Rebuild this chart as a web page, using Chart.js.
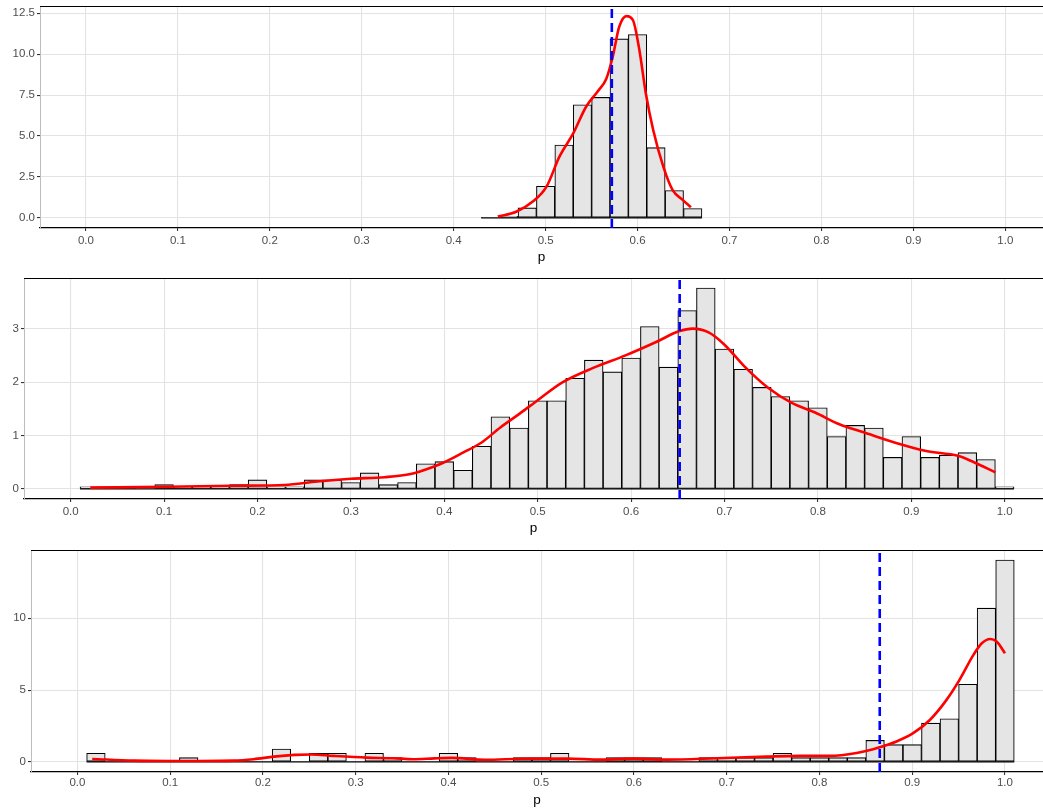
<!DOCTYPE html>
<html>
<head>
<meta charset="utf-8">
<script src="https://cdn.jsdelivr.net/npm/chart.js@4.4.1/dist/chart.umd.min.js"></script>
<style>
  html, body { margin: 0; padding: 0; background: #ffffff; }
  .panel { position: absolute; left: 0; width: 1043px; }
  canvas { display: block; }
</style>
</head>
<body>
<div class="panel" style="top:0px;height:270px"><canvas id="c1" width="1043" height="270"></canvas></div>
<div class="panel" style="top:270px;height:270px"><canvas id="c2" width="1043" height="270"></canvas></div>
<div class="panel" style="top:540px;height:271px"><canvas id="c3" width="1043" height="271"></canvas></div>
<script>
// ---------------- DATA ----------------
const binWidth = 0.02;
const xTicks = [0.0, 0.1, 0.2, 0.3, 0.4, 0.5, 0.6, 0.7, 0.8, 0.9, 1.0];

// Panel 1
const binCenters1 = [0.44, 0.46, 0.48, 0.50, 0.52, 0.54, 0.56, 0.58, 0.60, 0.62, 0.64, 0.66];
const density1 = [0.03, 0.10, 0.61, 1.93, 4.45, 6.91, 7.36, 10.93, 11.20, 4.29, 1.67, 0.57];
const curveX1 = [0.448, 0.468, 0.486, 0.501, 0.515, 0.530, 0.544, 0.557, 0.566, 0.573, 0.580, 0.588, 0.595, 0.602, 0.609, 0.617, 0.628, 0.638, 0.649, 0.658];
const curveY1 = [0.08, 0.38, 1.00, 1.91, 3.74, 5.16, 6.79, 7.75, 8.50, 9.84, 11.66, 12.32, 12.07, 10.24, 7.60, 5.37, 3.13, 1.71, 1.10, 0.65];
const mean1 = 0.572;
const yTicks1 = [0.0, 2.5, 5.0, 7.5, 10.0, 12.5];

// Panel 2
const binCenters2 = [0.02, 0.04, 0.06, 0.08, 0.10, 0.12, 0.14, 0.16, 0.18, 0.20,
                     0.22, 0.24, 0.26, 0.28, 0.30, 0.32, 0.34, 0.36, 0.38, 0.40,
                     0.42, 0.44, 0.46, 0.48, 0.50, 0.52, 0.54, 0.56, 0.58, 0.60,
                     0.62, 0.64, 0.66, 0.68, 0.70, 0.72, 0.74, 0.76, 0.78, 0.80,
                     0.82, 0.84, 0.86, 0.88, 0.90, 0.92, 0.94, 0.96, 0.98, 1.00];
const density2 = [0.04, 0.04, 0.04, 0.00, 0.08, 0.04, 0.04, 0.04, 0.08, 0.17,
                  0.04, 0.04, 0.17, 0.17, 0.12, 0.30, 0.08, 0.12, 0.47, 0.51,
                  0.35, 0.80, 1.35, 1.14, 1.65, 1.65, 2.07, 2.41, 2.19, 2.45,
                  3.04, 2.28, 3.34, 3.76, 2.62, 2.24, 1.90, 1.73, 1.65, 1.52,
                  0.98, 1.19, 1.14, 0.59, 0.98, 0.59, 0.63, 0.68, 0.55, 0.04];
const curveX2 = [0.021, 0.104, 0.175, 0.229, 0.264, 0.300, 0.336, 0.364, 0.389, 0.400, 0.420, 0.440, 0.460, 0.480, 0.500, 0.526, 0.560, 0.594, 0.628, 0.651, 0.666, 0.683, 0.700, 0.721, 0.747, 0.772, 0.797, 0.823, 0.849, 0.882, 0.916, 0.950, 0.967, 0.990];
const curveY2 = [0.025, 0.04, 0.06, 0.075, 0.14, 0.19, 0.22, 0.28, 0.42, 0.50, 0.68, 0.87, 1.15, 1.40, 1.66, 1.99, 2.27, 2.50, 2.76, 2.95, 3.00, 2.93, 2.70, 2.30, 1.89, 1.61, 1.43, 1.21, 1.06, 0.87, 0.71, 0.62, 0.50, 0.31];
const mean2 = 0.652;
const yTicks2 = [0, 1, 2, 3];

// Panel 3
const binCenters3 = binCenters2;
const density3 = [0.6, 0.0, 0.0, 0.0, 0.0, 0.3, 0.0, 0.0, 0.0, 0.0,
                  0.9, 0.0, 0.6, 0.6, 0.0, 0.6, 0.3, 0.0, 0.0, 0.6,
                  0.3, 0.0, 0.0, 0.3, 0.3, 0.6, 0.0, 0.0, 0.3, 0.3,
                  0.3, 0.0, 0.0, 0.3, 0.3, 0.3, 0.3, 0.6, 0.3, 0.3,
                  0.3, 0.3, 1.5, 1.2, 1.2, 2.7, 3.0, 5.4, 10.7, 14.05];
const curveX3 = [0.016, 0.061, 0.097, 0.133, 0.169, 0.190, 0.212, 0.234, 0.252, 0.276, 0.312, 0.340, 0.362, 0.385, 0.404, 0.440, 0.480, 0.528, 0.564, 0.600, 0.636, 0.690, 0.743, 0.779, 0.810, 0.840, 0.865, 0.883, 0.901, 0.919, 0.937, 0.951, 0.966, 0.975, 0.984, 0.991, 1.000];
const curveY3 = [0.21, 0.09, 0.07, 0.07, 0.09, 0.19, 0.37, 0.49, 0.52, 0.42, 0.30, 0.26, 0.19, 0.25, 0.28, 0.15, 0.22, 0.23, 0.16, 0.23, 0.16, 0.26, 0.37, 0.42, 0.42, 0.62, 1.02, 1.42, 2.00, 2.92, 4.32, 5.71, 7.45, 8.26, 8.56, 8.38, 7.57];
const mean3 = 0.865;
const yTicks3 = [0, 5, 10];

// ---------------- CHARTS ----------------
const FONT = "'Liberation Sans', Arial, Helvetica, sans-serif";

const topLinePlugin = {
  id: 'topLine',
  afterDraw(chart) {
    const a = chart.chartArea, ctx = chart.ctx;
    ctx.save();
    ctx.strokeStyle = '#000000';
    ctx.lineWidth = 1.2;
    ctx.beginPath();
    ctx.moveTo(a.left, a.top + 0.5);
    ctx.lineTo(a.right, a.top + 0.5);
    ctx.stroke();
    ctx.restore();
  }
};

function makePanel(id, cfg) {
  const pts = (xs, ys) => xs.map((x, i) => ({ x: x, y: ys[i] }));
  new Chart(document.getElementById(id), {
    type: 'bar',
    data: {
      datasets: [
        {
          type: 'bar',
          data: pts(cfg.centers, cfg.dens),
          backgroundColor: '#e5e5e5',
          borderColor: '#000000',
          borderWidth: 1.1,
          borderSkipped: false,
          barPercentage: 1.0,
          categoryPercentage: 1.0,
          order: 3
        },
        {
          type: 'line',
          data: [{ x: cfg.centers[0] - binWidth / 2, y: 0 }, { x: cfg.centers[cfg.centers.length - 1] + binWidth / 2, y: 0 }],
          borderColor: '#000000',
          borderWidth: 1.3,
          pointRadius: 0,
          order: 2
        },
        {
          type: 'line',
          data: pts(cfg.cx, cfg.cy),
          borderColor: '#ff0000',
          borderWidth: 2.6,
          pointRadius: 0,
          cubicInterpolationMode: 'monotone',
          order: 1
        },
        {
          type: 'line',
          data: [{ x: cfg.mean, y: cfg.yMin }, { x: cfg.mean, y: cfg.yMax }],
          borderColor: '#0000ff',
          borderWidth: 2.6,
          borderDash: [9, 5],
          pointRadius: 0,
          order: 0
        }
      ]
    },
    options: {
      responsive: false,
      animation: false,
      devicePixelRatio: 1,
      layout: { padding: { top: cfg.padTop, left: 0, right: 0, bottom: 0 } },
      plugins: { legend: { display: false }, tooltip: { enabled: false } },
      scales: {
        x: {
          type: 'linear',
          min: -0.05,
          max: 1.041,
          offset: false,
          afterBuildTicks: s => { s.ticks = xTicks.map(v => ({ value: v })); },
          afterFit: s => { s.height = cfg.xH; s.paddingLeft = 0; s.paddingRight = 0; },
          grid: { offset: false, color: '#e3e3e3', lineWidth: 1.1, tickColor: '#333333', tickLength: 3 },
          border: { color: '#000000', width: 1.2 },
          ticks: {
            color: '#4d4d4d',
            font: { family: FONT, size: 11.5 },
            padding: cfg.tickPad,
            maxRotation: 0,
            autoSkip: false,
            callback: v => Number(v).toFixed(1)
          },
          title: {
            display: true,
            text: 'p',
            color: '#000000',
            font: { family: FONT, size: 13.5 },
            padding: { top: 0, bottom: cfg.titlePad }
          }
        },
        y: {
          type: 'linear',
          min: cfg.yMin,
          max: cfg.yMax,
          afterBuildTicks: s => { s.ticks = cfg.yTicks.map(v => ({ value: v })); },
          afterFit: s => { s.width = cfg.yW; s.paddingTop = 0; s.paddingBottom = 0; },
          grid: { color: '#e3e3e3', lineWidth: 1.1, tickColor: '#333333', tickLength: 3 },
          border: { color: '#bdbdbd', width: 1 },
          ticks: {
            color: '#4d4d4d',
            font: { family: FONT, size: 11.5 },
            padding: 2,
            autoSkip: false,
            callback: v => cfg.fmt(v)
          }
        }
      }
    },
    plugins: [topLinePlugin]
  });
}

makePanel('c1', {
  centers: binCenters1, dens: density1, cx: curveX1, cy: curveY1, mean: mean1,
  yMin: -0.616, yMax: 12.94, yTicks: yTicks1, fmt: v => Number(v).toFixed(1),
  padTop: 6, xH: 42, yW: 40, tickPad: 3, titlePad: 5
});
makePanel('c2', {
  centers: binCenters2, dens: density2, cx: curveX2, cy: curveY2, mean: mean2,
  yMin: -0.188, yMax: 3.948, yTicks: yTicks2, fmt: v => String(Math.round(v)),
  padTop: 8, xH: 41, yW: 24, tickPad: 3, titlePad: 4
});
makePanel('c3', {
  centers: binCenters3, dens: density3, cx: curveX3, cy: curveY3, mean: mean3,
  yMin: -0.70, yMax: 14.75, yTicks: yTicks3, fmt: v => String(Math.round(v)),
  padTop: 10, xH: 39, yW: 31, tickPad: 1, titlePad: 3
});
</script>
</body>
</html>
